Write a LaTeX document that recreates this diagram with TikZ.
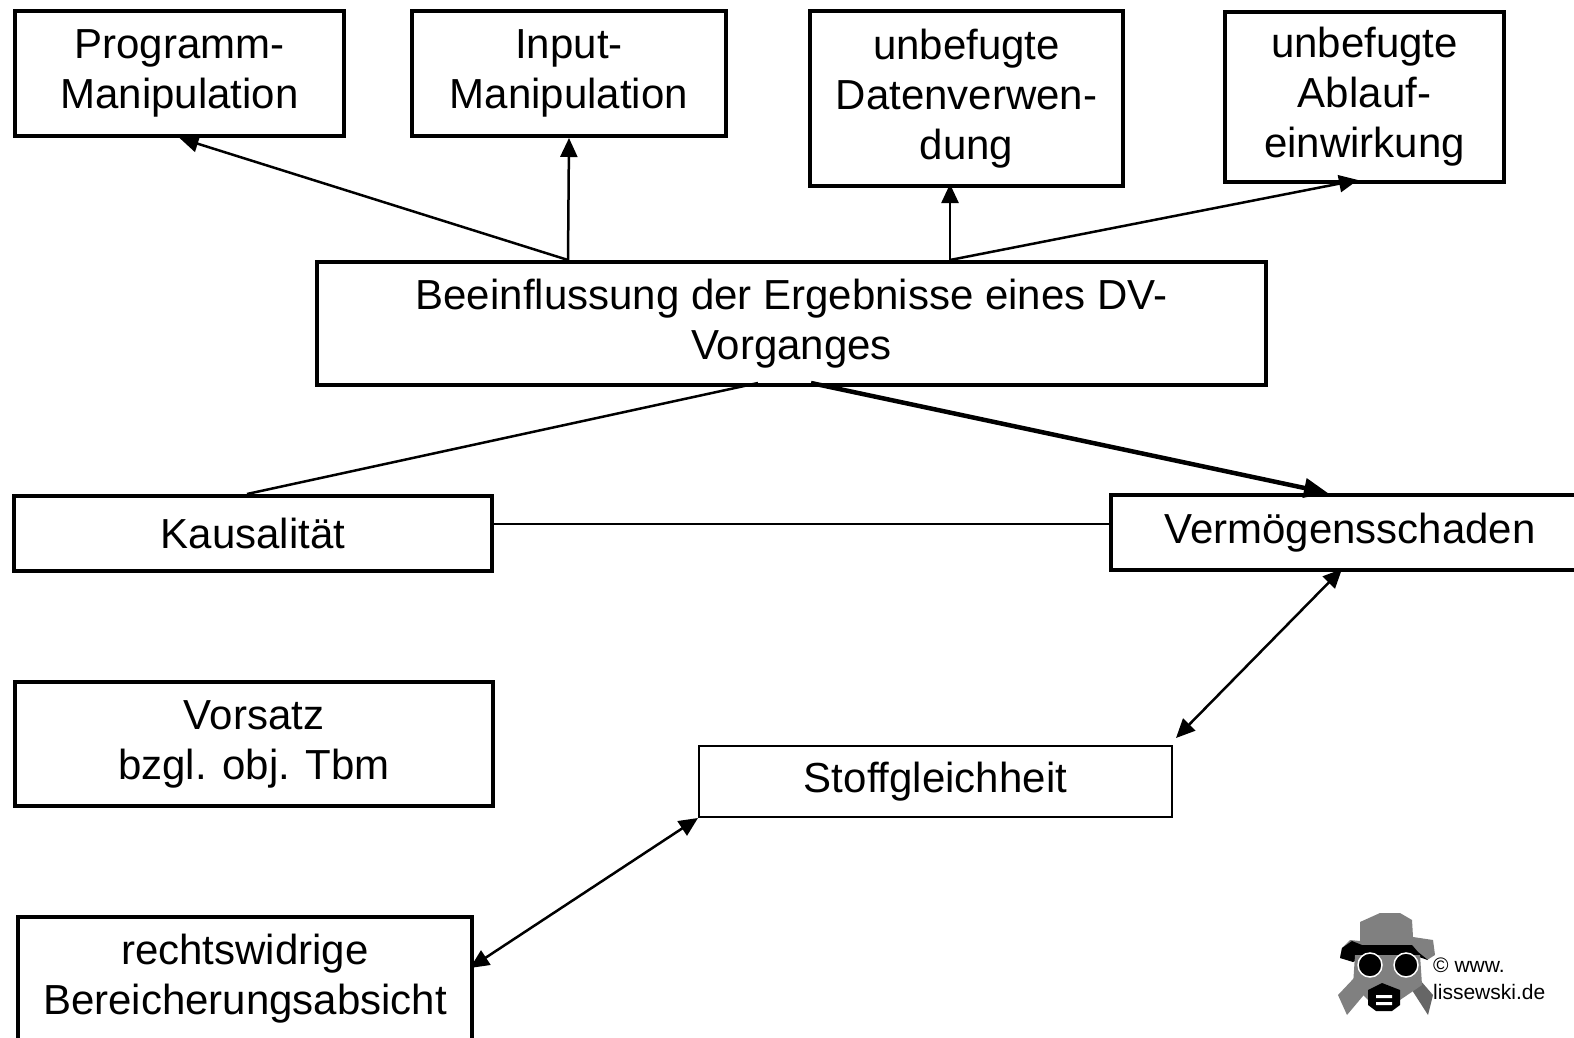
\documentclass[tikz,border=0pt]{standalone}
\usepackage{fontspec}
\setmainfont{Liberation Sans}
\usetikzlibrary{arrows.meta}
\tikzset{x=1pt,y=-1pt,
    every node/.style={align=center,inner sep=0pt,anchor=north west},
    fatbox/.style={draw,line width=4pt,font=\fontsize{42}{50}\selectfont},
    thinbox/.style={draw,line width=2pt,font=\fontsize{42}{50}\selectfont},
    conn/.style={line width=2.5pt},
    tipconn/.style={conn,-{Triangle[length=19pt,width=17pt]}},
    bothconn/.style={conn,{Triangle[length=19pt,width=17pt]}-{Triangle[length=19pt,width=17pt]}},
    mainconn/.style={line width=4.5pt,-{Triangle[length=24pt,width=19pt]}},
    copyline/.style={font=\fontsize{21}{26}\selectfont,align=left},
    }

\begin{document}
\begin{tikzpicture}
\useasboundingbox (0,0) rectangle (1574,1038);
% boxes
\node[fatbox,minimum width=329pt,minimum height=125pt] (prog) at (13,9) {Programm-\\Manipulation};
\node[fatbox,minimum width=314pt,minimum height=125pt] (input) at (410,9) {Input-\\Manipulation};
\node[fatbox,minimum width=313pt,minimum height=175pt] (daten) at (808,9) {unbefugte\\Datenverwen-\\dung};
\node[fatbox,minimum width=279pt,minimum height=170pt] (ablauf) at (1223,10) {unbefugte\\Ablauf-\\einwirkung};
\node[fatbox,minimum width=949pt,minimum height=123pt] (beein) at (315,260) {Beeinflussung der Ergebnisse eines DV-\\Vorganges};
\node[fatbox,minimum width=478pt,minimum height=75pt] (kausal) at (12,494) {Kausalität};
\node[fatbox,minimum width=478pt,minimum height=75pt] (verm) at (1109,493) {Vermögensschaden};
\node[fatbox,minimum width=478pt,minimum height=124pt] (vorsatz) at (13,680) {Vorsatz\\bzgl. obj. Tbm};
\node[thinbox,minimum width=473pt,minimum height=71pt] (stoff) at (698,745) {Stoffgleichheit};
\node[fatbox,minimum width=454pt,minimum height=124pt] (rechts) at (16,915) {rechtswidrige\\Bereicherungsabsicht};
% where the connectors meet the boxes
\coordinate (bA) at (568,260);
\coordinate (bB) at (950,260);
\coordinate (bC) at (758,383);
\coordinate (bD) at (811,383);
\coordinate (dA) at (950,184);
\coordinate (aA) at (1358,180);
\coordinate (kA) at (247,494);
\coordinate (kB) at (490,524);
\coordinate (vA) at (1328,493);
\coordinate (vB) at (1109,524);
\coordinate (vC) at (1342,569);
\coordinate (sA) at (1176,738);
\coordinate (rA) at (470,968);
% connectors
\draw[tipconn] (bA) -- (prog.south);
\draw[tipconn] (bA) -- (input.south);
\draw[tipconn] (bB) -- (dA);
\draw[tipconn] (bB) -- (aA);
\draw[conn] (bC) -- (kA);
\draw[mainconn] (bD) -- (vA);
\draw[conn] (kB) -- (vB);
\draw[bothconn] (vC) -- (sA);
\draw[bothconn] (stoff.south west) -- (rA);
% logo
\fill[black!50] (1360,922) -- (1380,913) -- (1400,913) -- (1412,920) -- (1413,937) -- (1433,940) -- (1435,955) -- (1427,960) -- (1413,950) -- (1367,950) -- (1353,960) -- (1340,958) -- (1342,948) -- (1350,940) -- (1360,941) -- cycle;
\fill (1340,958) -- (1342,948) -- (1352,941) -- (1362,945) -- (1412,945) -- (1418,952) -- (1428,960) -- (1413,955) -- (1367,955) -- (1353,962) -- cycle;
\fill[black!50] (1338,995) -- (1347,1015) -- (1368,990) -- (1355,977) -- cycle;
\fill[black!60] (1410,987) -- (1428,1015) -- (1433,995) -- (1420,980) -- cycle;
\fill[black!50] (1355,955) -- (1420,955) -- (1422,985) -- (1400,1000) -- (1368,1000) -- (1353,985) -- cycle;
\fill (1368,990) -- (1382,983) -- (1400,990) -- (1400,1005) -- (1392,1011) -- (1376,1011) -- (1368,1005) -- cycle;
\fill[white] (1376,995) rectangle (1392,998) (1376,1002) rectangle (1392,1005);
\filldraw[draw=white,line width=1.5pt,fill=black] (1370,965) circle (12) (1406,965) circle (12);
\node[copyline] (copyA) at (1433,958) {© www.};
\node[copyline] (copyB) at (1433,984) {lissewski.de};
\end{tikzpicture}
\end{document}
